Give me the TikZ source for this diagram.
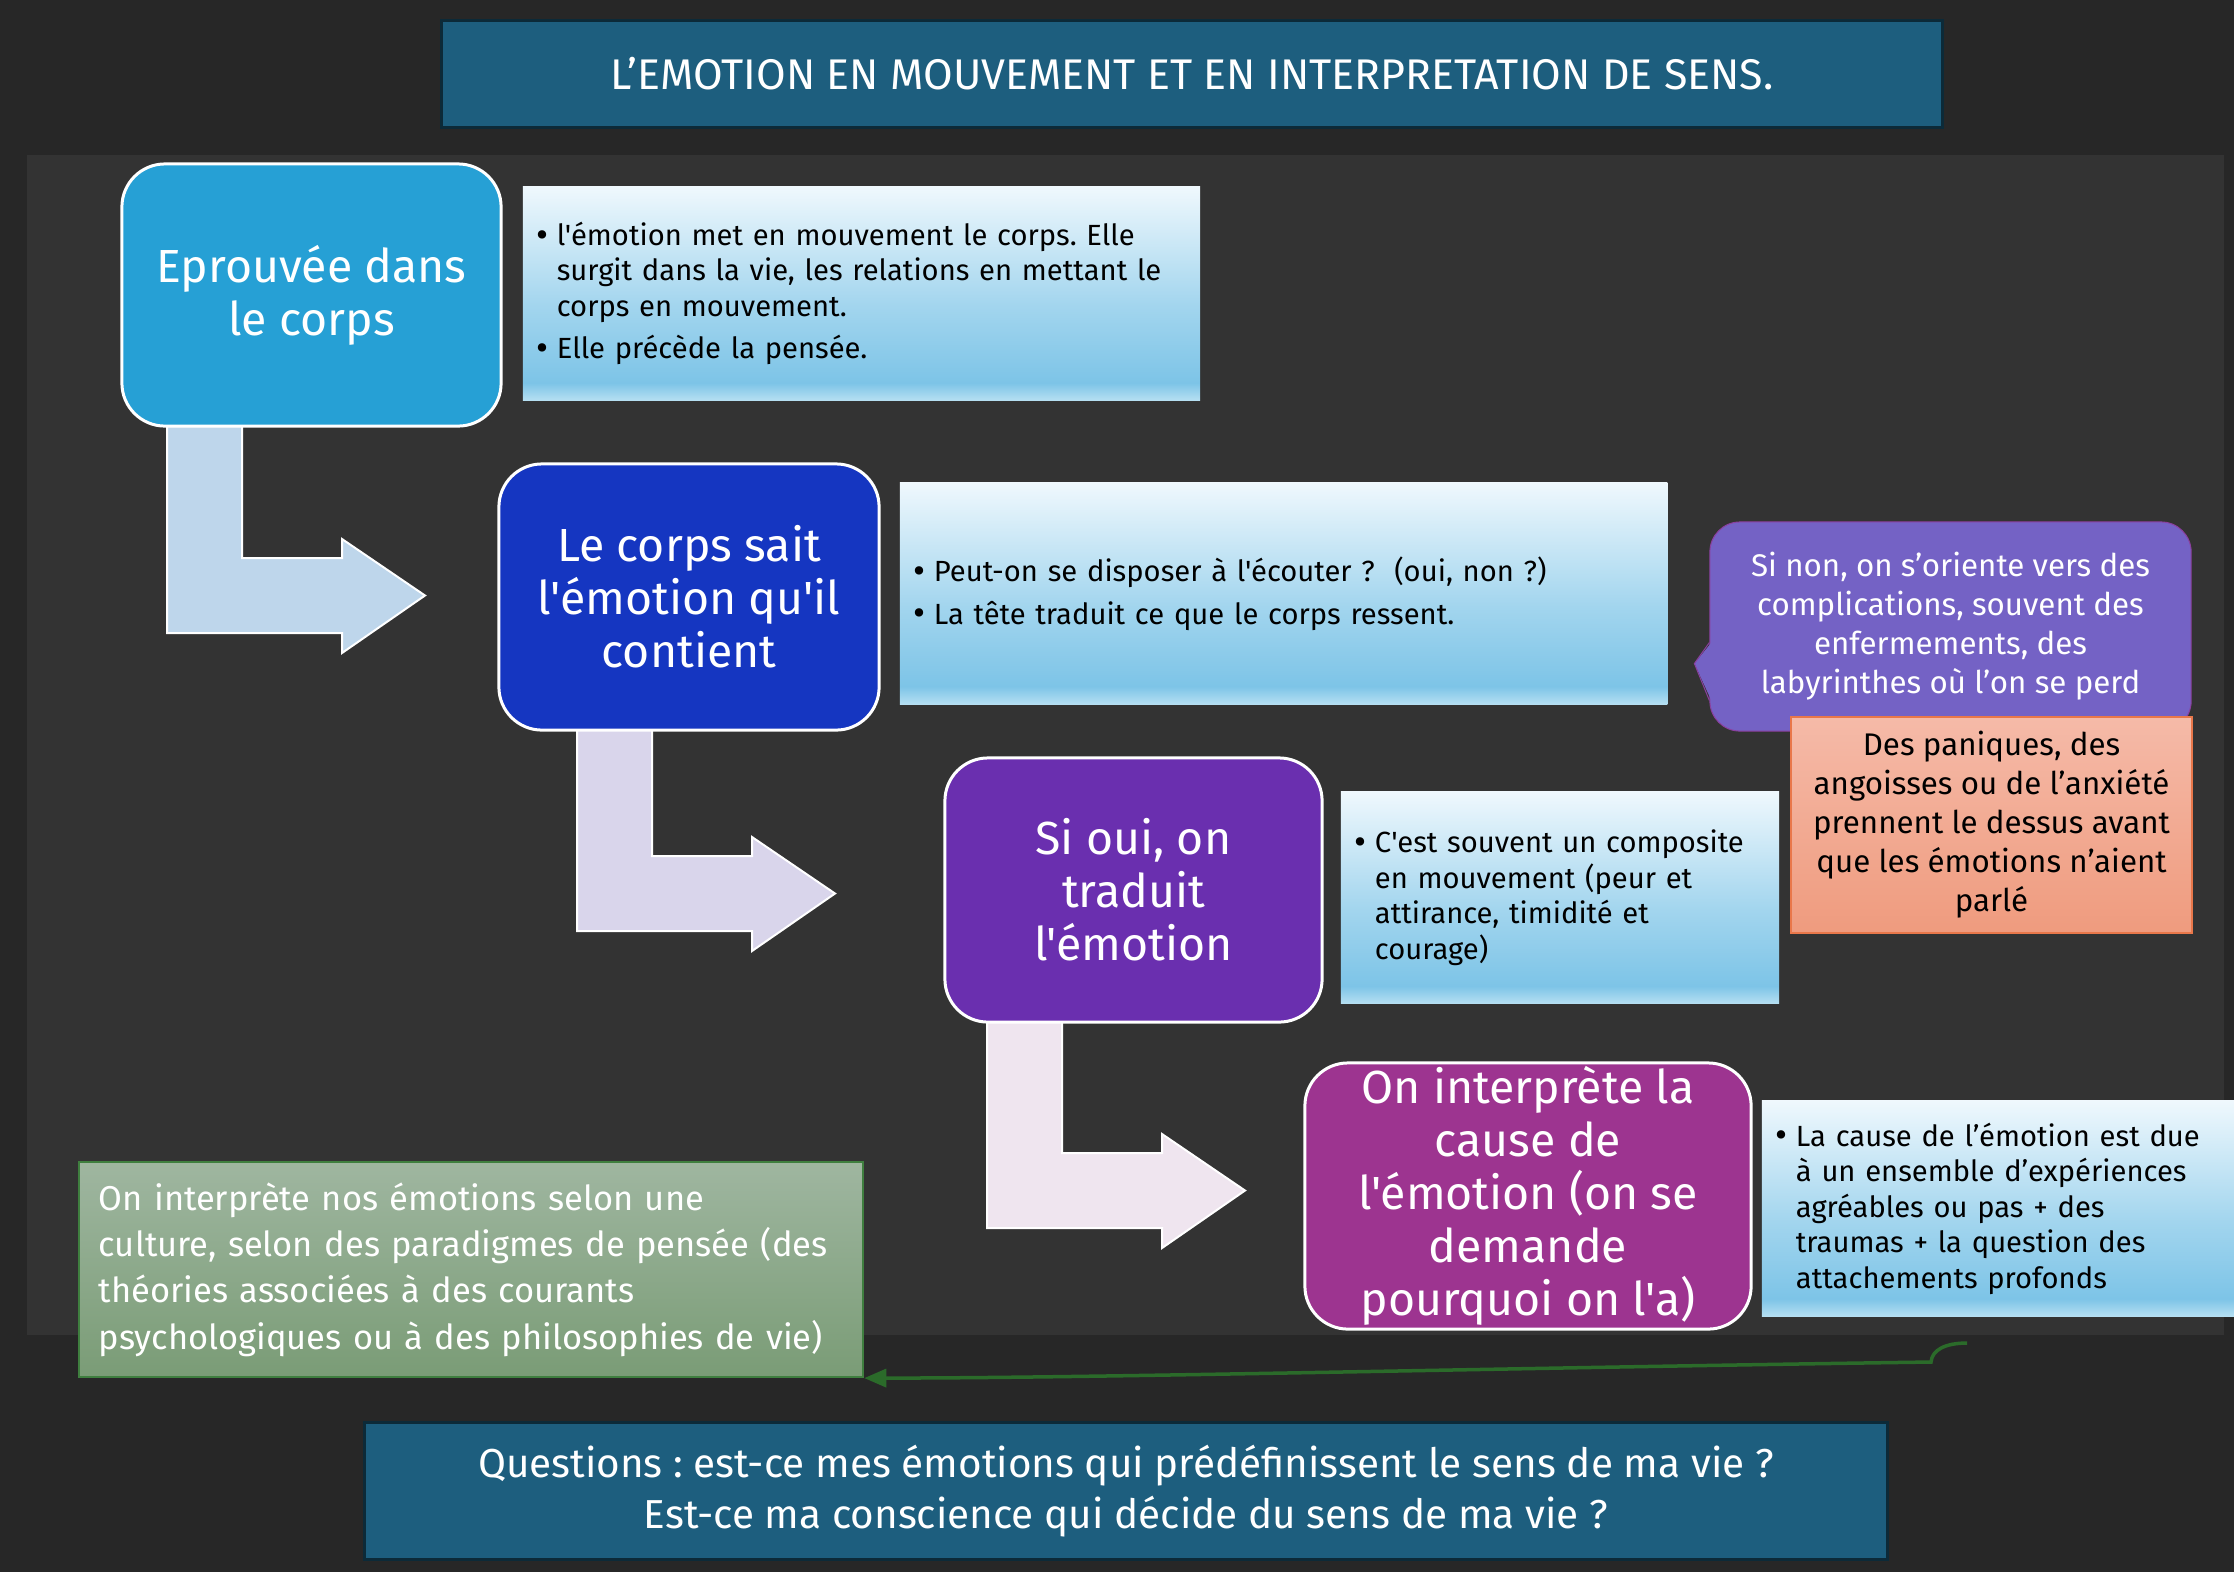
\documentclass[tikz,border=0pt]{standalone}
\usepackage{fontspec}
\setmainfont{Fira Sans}[Ligatures=TeXOff]
\usetikzlibrary{arrows.meta}
\frenchspacing
\hyphenpenalty=10000
\exhyphenpenalty=10000

\definecolor{fond}{HTML}{272727}
\definecolor{panneau}{HTML}{333333}
\definecolor{bandeau}{HTML}{1D5E7E}
\definecolor{bandeaubord}{HTML}{0C2A38}
\definecolor{corpsbleu}{HTML}{26A0D5}
\definecolor{saitbleu}{HTML}{1536C1}
\definecolor{ouiviolet}{HTML}{6A2FAF}
\definecolor{causemauve}{HTML}{9D3490}
\definecolor{fleche1}{HTML}{BED6EB}
\definecolor{fleche2}{HTML}{D9D5EB}
\definecolor{fleche3}{HTML}{EFE5EF}
\definecolor{cielhaut}{HTML}{EFF8FD}
\definecolor{cielmilieu}{HTML}{A2D5EE}
\definecolor{cielfonce}{HTML}{7DC4E7}
\definecolor{cielbas}{HTML}{B5DFF2}
\definecolor{bulleviolet}{HTML}{7462C5}
\definecolor{bullebord}{HTML}{8B3F9E}
\definecolor{paniquehaut}{HTML}{F5BAA8}
\definecolor{paniquebas}{HTML}{EF9B7E}
\definecolor{paniquebord}{HTML}{E9774A}
\definecolor{verthaut}{HTML}{9FB6A0}
\definecolor{vertbas}{HTML}{7A9C76}
\definecolor{vertbord}{HTML}{3F7F3F}
\definecolor{vertfleche}{HTML}{2B6B2A}

\pgfdeclareverticalshading{degradeciel}{100bp}{color(0bp)=(cielbas); color(25bp)=(cielbas); color(29bp)=(cielfonce); color(47bp)=(cielmilieu); color(75bp)=(cielhaut); color(100bp)=(cielhaut)}

\newcommand{\puce}{\makebox[0.2cm][l]{\raisebox{-0.12ex}{\fontsize{10.5pt}{10pt}\selectfont\textbullet}}}
\newcommand{\retrait}{\hspace*{0.2cm}}

\begin{document}
\begin{tikzpicture}[x=0.01cm, y=-0.01cm,
	bandeau/.style={fill=bandeau, draw=bandeaubord, line width=0.03cm, text=white, align=center, inner sep=0pt},
	boite/.style={draw=white, line width=0.03cm, rounded corners=0.43cm, text=white, align=center, inner sep=0pt, font=\fontsize{13.2pt}{15.1pt}\selectfont},
	texte/.style={shading=degradeciel, text=black, align=left, inner xsep=0.14cm, inner ysep=0pt, font=\fontsize{8.3pt}{10.1pt}\selectfont},
	fleche/.style={draw=white, line width=0.02cm},
	lien/.style={-{Triangle[length=0.22cm,width=0.18cm]}, draw=vertfleche, line width=0.035cm}]

	\useasboundingbox (0,0) rectangle (2234,1572);
	\fill[fond] (0,0) rectangle (2234,1572);
	\fill[panneau] (27,155) rectangle (2224,1335);

	\node[bandeau, minimum width=15cm, minimum height=1.06cm, font=\fontsize{12.2pt}{14pt}\selectfont] (titre) at (1192,74) {L’EMOTION EN MOUVEMENT ET EN INTERPRETATION DE SENS.};

	\foreach \xg/\yh/\yb/\coul in {167/426/558/fleche1, 577/729/856/fleche2, 987/1022/1153/fleche3}
		\draw[fleche, fill=\coul] (\xg,\yh) -- (\xg+75,\yh) -- (\xg+75,\yb) -- (\xg+175,\yb) -- (\xg+175,\yb-19) -- (\xg+258,\yb+37.5) -- (\xg+175,\yb+95) -- (\xg+175,\yb+75) -- (\xg,\yb+75) -- cycle;

	\node[boite, fill=corpsbleu, minimum width=3.79cm, minimum height=2.62cm] (corps) at (311.5,295) {Eprouvée dans\\le corps};
	\node[boite, fill=saitbleu, minimum width=3.80cm, minimum height=2.66cm] (sait) at (689,597) {Le corps sait\\l'émotion qu'il\\contient};
	\node[boite, fill=ouiviolet, minimum width=3.77cm, minimum height=2.64cm] (oui) at (1133.5,890) {Si oui, on\\traduit\\l'émotion};
	\node[boite, fill=causemauve, minimum width=4.46cm, minimum height=2.66cm] (cause) at (1528,1196) {On interprète la\\cause de\\l'émotion (on se\\demande\\pourquoi on l'a)};

	\node[texte, text width=6.49cm, minimum height=2.13cm] (texte1) at (861.5,293.5) {\puce l'émotion met en mouvement le corps. Elle\\ \retrait surgit dans la vie, les relations en mettant le\\ \retrait corps en mouvement.\\[0.07cm] \puce Elle précède la pensée.};
	\node[texte, text width=7.39cm, minimum height=2.21cm] (texte2) at (1283.5,593.5) {\puce Peut-on se disposer à l'écouter~?~~(oui, non~?)\\[0.07cm] \puce La tête traduit ce que le corps ressent.};
	\node[texte, text width=4.10cm, minimum height=2.11cm] (texte3) at (1560,897.5) {\puce C'est souvent un composite\\ \retrait en mouvement (peur et\\ \retrait attirance, timidité et\\ \retrait courage)};
	\node[texte, text width=4.70cm, minimum height=2.15cm] (texte4) at (2011,1208.5) {\puce La cause de l’émotion est due\\ \retrait à un ensemble d’expériences\\ \retrait agréables ou pas + des\\ \retrait traumas + la question des\\ \retrait attachements profonds};

	\node[fill=bulleviolet, draw=bullebord, line width=0.01cm, rounded corners=0.3cm, minimum width=4.81cm, minimum height=2.09cm, inner sep=0pt, text=white, align=center, font=\fontsize{8.9pt}{11.1pt}\selectfont] (sinon) at (1950.5,626.5) {Si non, on s’oriente vers des\\complications, souvent des\\enfermements, des\\labyrinthes où l’on se perd};
	\fill[bulleviolet] (sinon.west) ++(2,16) -- ++(-17,21) -- ++(17,37) -- cycle;
	\draw[bullebord, line width=0.01cm] (sinon.west) ++(0,16) -- ++(-15,21) -- ++(15,37);

	\node[top color=paniquehaut, bottom color=paniquebas, draw=paniquebord, line width=0.015cm, minimum width=4.01cm, minimum height=2.16cm, inner sep=0pt, text=black, align=center, font=\fontsize{8.9pt}{11.1pt}\selectfont] (panique) at (1991.5,825) {Des paniques, des\\angoisses ou de l’anxiété\\prennent le dessus avant\\que les émotions n’aient\\parlé};

	\node[top color=verthaut, bottom color=vertbas, draw=vertbord, line width=0.02cm, text width=7.44cm, minimum height=2.15cm, inner xsep=0.2cm, inner ysep=0pt, text=white, align=left, font=\fontsize{9.8pt}{13.2pt}\selectfont] (culture) at (471,1269.5) {On interprète nos émotions selon une\\culture, selon des paradigmes de pensée (des\\théories associées à des courants\\psychologiques ou à des philosophies de vie)};

	\coordinate (depart) at (1967,1343);
	\draw[lien] (depart) .. controls (1945,1343) and (1932,1350) .. (1931,1362) .. controls (1500,1368) and (1100,1378) .. (culture.south east);

	\node[bandeau, minimum width=15.22cm, minimum height=1.36cm, font=\fontsize{11.5pt}{14.5pt}\selectfont] (questions) at (1126,1491) {Questions : est-ce mes émotions qui prédéfinissent le sens de ma vie ?\\Est-ce ma conscience qui décide du sens de ma vie ?};
\end{tikzpicture}
\end{document}
